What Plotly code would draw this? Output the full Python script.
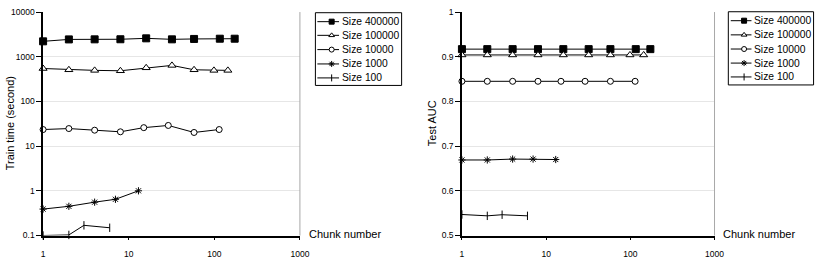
import plotly.graph_objects as go

W, H = 828, 272

# ---- data ----
series_names = ["Size 400000", "Size 100000", "Size 10000", "Size 1000", "Size 100"]

chunks_400000 = [1, 2, 4, 8, 16, 32, 58, 116, 173]
chunks_100000 = [1, 2, 4, 8, 16, 32, 58, 99, 144]
chunks_10000 = [1, 2, 4, 8, 15, 29, 58, 114]
chunks_1000 = [1, 2, 4, 7, 13]
chunks_100 = [1, 2, 3, 6]

time_400000 = [2210, 2440, 2450, 2460, 2580, 2450, 2500, 2530, 2530]
time_100000 = [545, 510, 495, 485, 565, 640, 510, 495, 495]
time_10000 = [23.5, 24.7, 22.7, 20.9, 25.9, 29.0, 20.2, 23.5]
time_1000 = [0.39, 0.45, 0.557, 0.646, 1.0]
time_100 = [0.1, 0.103, 0.169, 0.149]

auc_400000 = [0.917, 0.917, 0.917, 0.917, 0.917, 0.917, 0.917, 0.917, 0.917]
auc_100000 = [0.904, 0.904, 0.904, 0.904, 0.904, 0.904, 0.904, 0.904, 0.904]
auc_10000 = [0.845, 0.845, 0.845, 0.845, 0.845, 0.845, 0.845, 0.845]
auc_1000 = [0.669, 0.669, 0.671, 0.671, 0.670]
auc_100 = [0.547, 0.544, 0.5465, 0.544]

chunks = [chunks_400000, chunks_100000, chunks_10000, chunks_1000, chunks_100]
times = [time_400000, time_100000, time_10000, time_1000, time_100]
aucs = [auc_400000, auc_100000, auc_10000, auc_1000, auc_100]

time_ticks = [0.1, 1, 10, 100, 1000, 10000]
time_ticklabels = ["0.1", "1", "10", "100", "1000", "10000"]
auc_ticks = [0.5, 0.6, 0.7, 0.8, 0.9, 1]
auc_ticklabels = ["0.5", "0.6", "0.7", "0.8", "0.9", "1"]
x_ticks = [1, 10, 100, 1000]
x_ticklabels = ["1", "10", "100", "1000"]

# ---- styles ----
markers = [
    dict(symbol="square", color="black", size=7, line=dict(color="black", width=1)),
    dict(symbol="triangle-up", color="white", size=7, line=dict(color="black", width=1)),
    dict(symbol="circle", color="white", size=6, line=dict(color="black", width=1)),
    dict(symbol="asterisk-open", color="black", size=6, line=dict(color="black", width=1)),
    dict(symbol="line-ns-open", color="black", size=6, line=dict(color="black", width=1)),
]
legend_markers = [
    dict(symbol="square", color="black", size=5, line=dict(color="black", width=1)),
    dict(symbol="triangle-up", color="white", size=5, line=dict(color="black", width=1)),
    dict(symbol="circle", color="white", size=5, line=dict(color="black", width=1)),
    dict(symbol="asterisk-open", color="black", size=5, line=dict(color="black", width=1)),
    dict(symbol="line-ns-open", color="black", size=5, line=dict(color="black", width=1)),
]

FONT = "Liberation Sans, Arial, sans-serif"

fig = go.Figure()
for i, name in enumerate(series_names):
    fig.add_trace(go.Scatter(x=chunks[i], y=times[i], name=name, mode="lines+markers",
                             line=dict(color="black", width=1), marker=markers[i],
                             xaxis="x", yaxis="y", showlegend=False, cliponaxis=False))
for i, name in enumerate(series_names):
    fig.add_trace(go.Scatter(x=chunks[i], y=aucs[i], name=name, mode="lines+markers",
                             line=dict(color="black", width=1), marker=markers[i],
                             xaxis="x2", yaxis="y2", showlegend=False, cliponaxis=False))

def px_x(p):
    return p / W

def px_y(p):
    return 1 - p / H

L1, R1 = 41.7, 302.3
L2, R2 = 466.7, 723.0
TOP, BOT = 7.3, 239.3

TICKFONT = dict(family=FONT, size=8.5, color="black")
x_common = dict(showline=True, linecolor="black", linewidth=1.5, ticks="outside",
                ticklen=3, tickcolor="black", tickfont=TICKFONT, zeroline=False,
                showgrid=False, ticklabelstandoff=7, type="log", range=[0, 3],
                tickvals=x_ticks, ticktext=x_ticklabels)
y_common = dict(showline=True, linecolor="black", linewidth=1.5, ticks="outside",
                ticklen=5, tickcolor="black", tickfont=TICKFONT, zeroline=False,
                showgrid=True, gridcolor="#e6e6e6", gridwidth=1,
                domain=[px_y(BOT), px_y(TOP)])

fig.update_layout(
    width=W, height=H, margin=dict(l=0, r=0, t=0, b=0),
    paper_bgcolor="white", plot_bgcolor="rgba(0,0,0,0)",
    font=dict(family=FONT, size=11, color="black"),
    showlegend=False,
    xaxis=dict(domain=[px_x(L1), px_x(R1)], anchor="y", **x_common),
    yaxis=dict(type="log", range=[-1, 4], tickvals=time_ticks, ticktext=time_ticklabels,
               anchor="x", **y_common),
    xaxis2=dict(domain=[px_x(L2), px_x(R2)], anchor="y2", **x_common),
    yaxis2=dict(range=[0.5, 1], tickvals=auc_ticks, ticktext=auc_ticklabels,
                anchor="x2", **y_common),
    # overlay axis in pixel units for the hand-drawn legends
    xaxis3=dict(domain=[0, 1], range=[0, W], visible=False, anchor="y3"),
    yaxis3=dict(domain=[0, 1], range=[H, 0], visible=False, anchor="x3"),
)

# right-hand frame edges
for xr, yr in (("x", "y"), ("x2", "y2")):
    fig.add_shape(type="line", xref=xr + " domain", yref=yr + " domain", x0=1, x1=1, y0=0, y1=1,
                  line=dict(color="#a8a8a8", width=1))

# legends (box, sample line + marker, label)
legend_boxes = [
    dict(x0=318, x1=405.5, y0=8, y1=83.5, line_x0=320, line_x1=342, marker_x=334.5, text_x=344,
         rows=[17.3, 31.5, 46.3, 61.2, 75.7]),
    dict(x0=737, x1=823.5, y0=7, y1=83, line_x0=739.5, line_x1=760.5, marker_x=753, text_x=762.5,
         rows=[16.3, 31.0, 45.7, 60.3, 74.7]),
]
for lb in legend_boxes:
    fig.add_shape(type="rect", xref="paper", yref="paper",
                  x0=px_x(lb["x0"]), x1=px_x(lb["x1"]), y0=px_y(lb["y1"]), y1=px_y(lb["y0"]),
                  line=dict(color="black", width=1), fillcolor="rgba(0,0,0,0)", layer="below")
    for i, name in enumerate(series_names):
        ry = lb["rows"][i]
        fig.add_trace(go.Scatter(x=[lb["line_x0"], lb["line_x1"]], y=[ry, ry], mode="lines",
                                 line=dict(color="black", width=1), xaxis="x3", yaxis="y3",
                                 showlegend=False, hoverinfo="skip"))
        fig.add_trace(go.Scatter(x=[lb["marker_x"]], y=[ry], mode="markers",
                                 marker=legend_markers[i], xaxis="x3", yaxis="y3",
                                 showlegend=False, hoverinfo="skip"))
        fig.add_annotation(text=name, xref="paper", yref="paper", x=px_x(lb["text_x"]),
                           y=px_y(ry), xanchor="left", yanchor="middle", showarrow=False,
                           borderpad=0, font=dict(family=FONT, size=10.3, color="black"))

annots = [
    dict(text="Train time (second)", x=px_x(9), y=px_y(123), textangle=-90),
    dict(text="Test AUC", x=px_x(437), y=px_y(123), textangle=-90),
]
for a in annots:
    fig.add_annotation(xref="paper", yref="paper", xanchor="center", yanchor="middle",
                       showarrow=False, font=dict(family=FONT, size=11, color="black"), **a)
for xp in (311, 731):
    fig.add_annotation(text="Chunk number", xref="paper", yref="paper", x=px_x(xp), y=px_y(238),
                       xanchor="left", yanchor="middle", showarrow=False, borderpad=0,
                       font=dict(family=FONT, size=11, color="black"))

fig.write_html("out.html")
